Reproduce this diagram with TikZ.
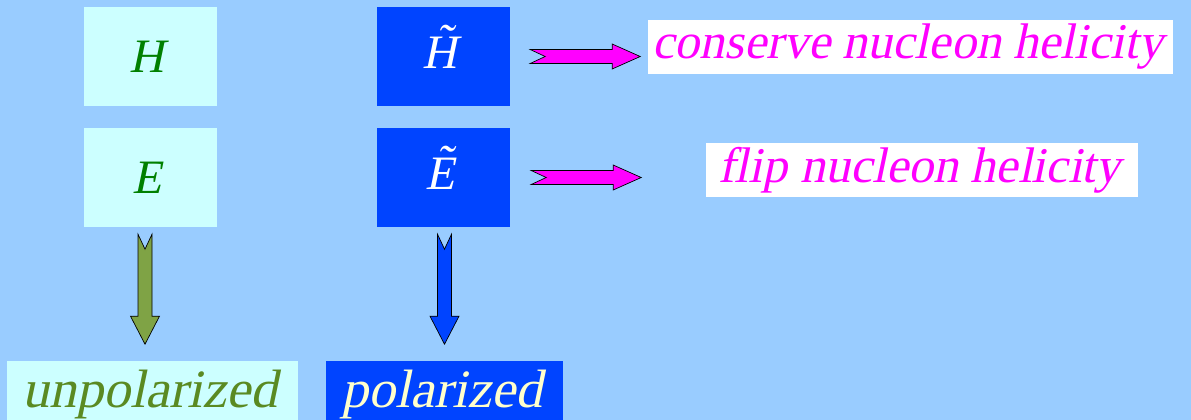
\documentclass[tikz,border=0pt]{standalone}
\usepackage{fontspec}
\newfontfamily\gpdfont{Liberation Serif}
\usetikzlibrary{positioning, calc}

\definecolor{skyback}{HTML}{99CCFF}
\definecolor{palecyan}{HTML}{CCFFFF}
\definecolor{deepblue}{HTML}{0044FF}
\definecolor{gpdgreen}{HTML}{008000}
\definecolor{olivetext}{HTML}{5A8A22}
\definecolor{olivefill}{HTML}{7FA345}
\definecolor{paleyellow}{HTML}{FFFFCC}
\definecolor{hotpink}{HTML}{FF00FF}

\newcommand{\tildeit}[1]{\ooalign{#1\cr\hidewidth\raisebox{0.22em}{\char"02DC}\hidewidth\cr}}

\tikzset{
  gpdbox/.style={minimum width=133pt, minimum height=99pt, inner sep=0pt},
  lightbox/.style={gpdbox, fill=palecyan},
  darkbox/.style={gpdbox, fill=deepblue},
  notebox/.style={fill=white, minimum height=54pt, inner sep=0pt},
  kindbox/.style={minimum height=76pt, inner sep=0pt},
  slanted/.style={xslant=0.21, transform shape, inner sep=0pt},
  gpdtext/.style={slanted, font=\gpdfont\fontsize{48}{56}\selectfont},
  notetext/.style={slanted, text=hotpink, font=\gpdfont\fontsize{50}{58}\selectfont},
  kindtext/.style={slanted, font=\gpdfont\fontsize{54}{62}\selectfont},
  fatarrow/.style={draw=black, line width=0.7pt, line join=miter},
}

% block arrows, tail notched
\newcommand{\fatright}[2]{\draw[fatarrow, fill=#2, shift={#1}]
  (0,-7) -- (82,-7) -- (82,-12.5) -- (110,0) -- (82,12.5) -- (82,7) -- (0,7) -- (15,0) -- cycle;}
\newcommand{\fatdown}[2]{\draw[fatarrow, fill=#2, shift={#1}]
  (-7,0) -- (0,15) -- (7,0) -- (7,82) -- (14.5,82) -- (0,110) -- (-14.5,82) -- (-7,82) -- cycle;}

\begin{document}
\begin{tikzpicture}[x=1pt, y=-1pt, node distance=121pt, on grid]
    \fill[skyback] (0,0) rectangle (1191,420);
    \clip (0,0) rectangle (1191,420);

    % boxes
    \node[lightbox] (H) at (150.5,56.5) {};
    \node[lightbox] (E) [below=of H] {};
    \node[darkbox] (Ht) [right=293pt of H] {};
    \node[darkbox] (Et) [below=of Ht] {};
    \node[notebox, minimum width=525pt] (cons) at (910.5,47) {};
    \node[notebox, minimum width=432pt] (flip) at (922,170) {};
    \node[kindbox, fill=palecyan, minimum width=291pt] (unpol) at (152.5,399) {};
    \node[kindbox, fill=deepblue, minimum width=237pt] (pol) at (444.5,399) {};

    % labels
    \node[gpdtext, text=gpdgreen] (Hlabel) at (H) {H};
    \node[gpdtext, text=gpdgreen] (Elabel) at (E) {E};
    \node[gpdtext, text=white] (Htlabel) at ($(Ht)+(0,-4)$) {\tildeit{H}};
    \node[gpdtext, text=white] (Etlabel) at ($(Et)+(0,-4)$) {\tildeit{E}};
    \node[notetext] (conslabel) at (cons) {conserve nucleon helicity};
    \node[notetext] (fliplabel) at (flip) {flip nucleon helicity};
    \node[kindtext, text=olivetext] (unpollabel) at ($(unpol)+(0,-4)$) {unpolarized};
    \node[kindtext, text=paleyellow] (pollabel) at ($(pol)+(0,-4)$) {polarized};

    % arrows
    \fatright{($(Ht.east)+(20,0)$)}{hotpink}
    \fatright{($(Et.east)+(21,0)$)}{hotpink}
    \fatdown{($(E.south)+(-5.5,7)$)}{olivefill}
    \fatdown{($(Et.south)+(1,7)$)}{deepblue}
\end{tikzpicture}
\end{document}
